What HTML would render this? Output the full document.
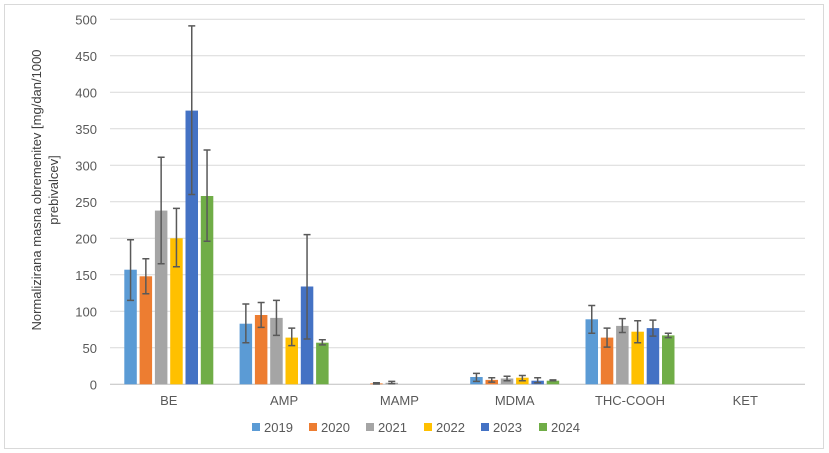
<!DOCTYPE html><html><head><style>body{margin:0;background:#fff}svg{display:block;font-family:"Liberation Sans",sans-serif}</style></head><body>
<svg width="829" height="453" xmlns="http://www.w3.org/2000/svg">
<rect x="4.5" y="4.5" width="819" height="444" fill="#fff" stroke="#d9d9d9"/>
<g stroke="#d9d9d9">
<line x1="110" x2="805" y1="19.3" y2="19.3"/><line x1="110" x2="805" y1="55.8" y2="55.8"/><line x1="110" x2="805" y1="92.3" y2="92.3"/><line x1="110" x2="805" y1="128.8" y2="128.8"/><line x1="110" x2="805" y1="165.3" y2="165.3"/><line x1="110" x2="805" y1="201.8" y2="201.8"/><line x1="110" x2="805" y1="238.3" y2="238.3"/><line x1="110" x2="805" y1="274.8" y2="274.8"/><line x1="110" x2="805" y1="311.3" y2="311.3"/><line x1="110" x2="805" y1="347.8" y2="347.8"/><line x1="110" x2="805" y1="384.3" y2="384.3" stroke="#bfbfbf"/>
</g>
<g font-size="13" fill="#595959" text-anchor="end">
<text x="97" y="24.3">500</text><text x="97" y="60.8">450</text><text x="97" y="97.3">400</text><text x="97" y="133.8">350</text><text x="97" y="170.3">300</text><text x="97" y="206.8">250</text><text x="97" y="243.3">200</text><text x="97" y="279.8">150</text><text x="97" y="316.3">100</text><text x="97" y="352.8">50</text><text x="97" y="389.3">0</text>
</g>
<text transform="translate(41,190) rotate(-90)" text-anchor="middle" font-size="13" fill="#404040">Normalizirana masna obremenitev [mg/dan/1000</text>
<text transform="translate(58,190) rotate(-90)" text-anchor="middle" font-size="13" fill="#404040">prebivalcev]</text>
<rect x="124.3" y="269.7" width="12.5" height="114.6" fill="#5b9bd5"/>
<rect x="139.6" y="276.3" width="12.5" height="108" fill="#ed7d31"/>
<rect x="154.9" y="210.6" width="12.5" height="173.7" fill="#a5a5a5"/>
<rect x="170.2" y="238.3" width="12.5" height="146" fill="#ffc000"/>
<rect x="185.5" y="110.6" width="12.5" height="273.7" fill="#4472c4"/>
<rect x="200.8" y="196" width="12.5" height="188.3" fill="#70ad47"/>
<rect x="239.6" y="323.7" width="12.5" height="60.6" fill="#5b9bd5"/>
<rect x="254.9" y="315" width="12.5" height="69.3" fill="#ed7d31"/>
<rect x="270.2" y="317.9" width="12.5" height="66.4" fill="#a5a5a5"/>
<rect x="285.5" y="337.6" width="12.5" height="46.7" fill="#ffc000"/>
<rect x="300.8" y="286.5" width="12.5" height="97.8" fill="#4472c4"/>
<rect x="316.1" y="342.7" width="12.5" height="41.6" fill="#70ad47"/>
<rect x="370.2" y="383.4" width="12.5" height="0.9" fill="#ed7d31"/>
<rect x="385.5" y="382.8" width="12.5" height="1.5" fill="#a5a5a5"/>
<rect x="470.2" y="377" width="12.5" height="7.3" fill="#5b9bd5"/>
<rect x="485.5" y="379.9" width="12.5" height="4.4" fill="#ed7d31"/>
<rect x="500.8" y="378.5" width="12.5" height="5.8" fill="#a5a5a5"/>
<rect x="516.1" y="377.7" width="12.5" height="6.6" fill="#ffc000"/>
<rect x="531.4" y="380.7" width="12.5" height="3.6" fill="#4472c4"/>
<rect x="546.7" y="380.7" width="12.5" height="3.6" fill="#70ad47"/>
<rect x="585.5" y="319.3" width="12.5" height="65" fill="#5b9bd5"/>
<rect x="600.8" y="337.6" width="12.5" height="46.7" fill="#ed7d31"/>
<rect x="616.1" y="325.9" width="12.5" height="58.4" fill="#a5a5a5"/>
<rect x="631.4" y="331.7" width="12.5" height="52.6" fill="#ffc000"/>
<rect x="646.7" y="328.1" width="12.5" height="56.2" fill="#4472c4"/>
<rect x="662" y="335.4" width="12.5" height="48.9" fill="#70ad47"/>
<path stroke="#595959" stroke-width="1.5" fill="none" d="
M130.55 300.4V239.8M127.05 300.4h7M127.05 239.8h7
M145.85 293.8V258.7M142.35 293.8h7M142.35 258.7h7
M161.15 263.8V157.3M157.65 263.8h7M157.65 157.3h7
M176.45 266.8V208.4M172.95 266.8h7M172.95 208.4h7
M191.75 194.5V25.9M188.25 194.5h7M188.25 25.9h7
M207.05 241.2V150M203.55 241.2h7M203.55 150h7
M245.85 342.7V304M242.35 342.7h7M242.35 304h7
M261.15 327.4V302.5M257.65 327.4h7M257.65 302.5h7
M276.45 335.4V300.4M272.95 335.4h7M272.95 300.4h7
M291.75 345.6V328.1M288.25 345.6h7M288.25 328.1h7
M307.05 339V234.6M303.55 339h7M303.55 234.6h7
M322.35 344.9V339.8M318.85 344.9h7M318.85 339.8h7
M376.45 384V382.8M372.95 384h7M372.95 382.8h7
M391.75 383.6V381.4M388.25 383.6h7M388.25 381.4h7
M476.45 381.4V373.4M472.95 381.4h7M472.95 373.4h7
M491.75 382.1V377.7M488.25 382.1h7M488.25 377.7h7
M507.05 380.7V376.3M503.55 380.7h7M503.55 376.3h7
M522.35 380.7V375.5M518.85 380.7h7M518.85 375.5h7
M537.65 382.8V377.7M534.15 382.8h7M534.15 377.7h7
M552.95 380.7V379.9M549.45 380.7h7M549.45 379.9h7
M591.75 333.2V305.5M588.25 333.2h7M588.25 305.5h7
M607.05 347.1V328.1M603.55 347.1h7M603.55 328.1h7
M622.35 332.5V318.6M618.85 332.5h7M618.85 318.6h7
M637.65 342.7V320.8M634.15 342.7h7M634.15 320.8h7
M652.95 336.1V320.1M649.45 336.1h7M649.45 320.1h7
M668.25 337.6V333.2M664.75 337.6h7M664.75 333.2h7"/>
<g font-size="13" fill="#595959" text-anchor="middle">
<text x="168.8" y="405">BE</text><text x="284.1" y="405">AMP</text><text x="399.4" y="405">MAMP</text><text x="514.7" y="405">MDMA</text><text x="630" y="405">THC-COOH</text><text x="745.3" y="405">KET</text>
</g>
<g font-size="13" fill="#595959">
<rect x="252" y="423" width="8" height="8" fill="#5b9bd5"/><text x="264" y="432">2019</text>
<rect x="309" y="423" width="8" height="8" fill="#ed7d31"/><text x="321" y="432">2020</text>
<rect x="366" y="423" width="8" height="8" fill="#a5a5a5"/><text x="378" y="432">2021</text>
<rect x="424" y="423" width="8" height="8" fill="#ffc000"/><text x="436" y="432">2022</text>
<rect x="481" y="423" width="8" height="8" fill="#4472c4"/><text x="493" y="432">2023</text>
<rect x="539" y="423" width="8" height="8" fill="#70ad47"/><text x="551" y="432">2024</text>
</g>
</svg></body></html>
